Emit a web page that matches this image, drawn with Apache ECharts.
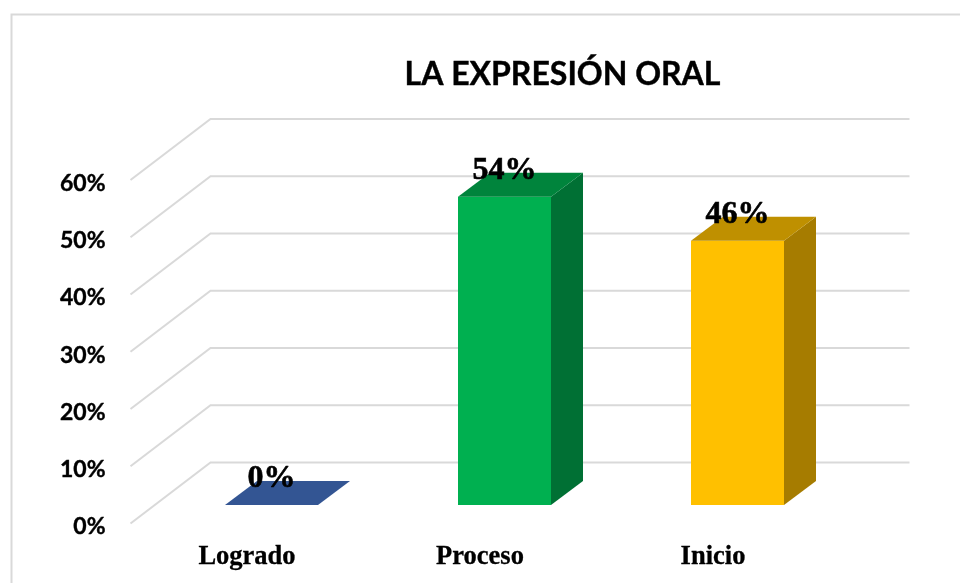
<!DOCTYPE html>
<html>
<head>
<meta charset="utf-8">
<style>html,body{margin:0;padding:0;background:#fff}#c{width:960px;height:583px}</style>
<script src="https://cdn.jsdelivr.net/npm/echarts@6/dist/echarts.min.js"></script>
</head>
<body>
<div id="c"></div>
<script>
var titleText = 'LA EXPRESIÓN ORAL';
var categories = ['Logrado', 'Proceso', 'Inicio'];
var values = [0, 53.85, 46.15];
var yTicks = [0, 10, 20, 30, 40, 50, 60];
var frontColors = ['#2f5597', '#00b050', '#ffc000'];
var topColors = ['#335593', '#00843c', '#bf9000'];
var sideColors = ['#254476', '#007034', '#a67c00'];

var GRID_DX = 80, GRID_DY = 61;
var BAR_W = 93, BAR_DX = 32, BAR_DY = 24, BAR_SHIFT_X = 24.5, BAR_SHIFT_Y = 18.5;
var chart = echarts.init(document.getElementById('c'), null, {renderer: 'canvas'});

function renderWall(params, api) {
  var cs = params.coordSys;
  var y = api.coord([0, api.value(1)])[1];
  return {
    type: 'polyline',
    shape: {points: [[cs.x, y], [cs.x + GRID_DX, y - GRID_DY], [cs.x + cs.width + GRID_DX, y - GRID_DY]]},
    style: {stroke: '#d9d9d9', lineWidth: 2, fill: 'none'},
    silent: true
  };
}
function renderBar(params, api) {
  var i = api.value(0), v = api.value(1);
  var b = api.coord([i, 0]), t = api.coord([i, v]);
  var l = b[0] + BAR_SHIFT_X - BAR_W / 2, r = l + BAR_W;
  var by = b[1] - BAR_SHIFT_Y, ty = t[1] - BAR_SHIFT_Y;
  var poly = function (pts, c) {
    return {type: 'polygon', shape: {points: pts}, style: {fill: c}};
  };
  var children = [];
  if (v > 0) {
    children.push(poly([[r, by], [r + BAR_DX, by - BAR_DY], [r + BAR_DX, ty - BAR_DY], [r, ty]], sideColors[i]));
    children.push(poly([[l, by], [r, by], [r, ty], [l, ty]], frontColors[i]));
  }
  children.push(poly([[l, ty], [r, ty], [r + BAR_DX, ty - BAR_DY], [l + BAR_DX, ty - BAR_DY]], topColors[i]));
  children.push({
    type: 'text', z2: 10,
    style: {
      text: Math.round(v) + '%', x: l + BAR_W / 2, y: ty - 26,
      align: 'center', verticalAlign: 'middle',
      font: 'bold 32px "Liberation Serif"', fill: '#000',
      stroke: '#000', lineWidth: 0.6
    }
  });
  return {type: 'group', children: children};
}

chart.setOption({
  animation: false,
  backgroundColor: '#fff',
  title: {
    text: titleText, left: 557.5, top: 54, textAlign: 'center',
    textStyle: {fontFamily: 'Lato', fontWeight: 'bold', fontSize: 32, color: '#000',
      textBorderColor: '#000', textBorderWidth: 0.4}
  },
  graphic: [{
    type: 'polyline', silent: true,
    shape: {points: [[11.5, 583], [11.5, 14.5], [960, 14.5]]},
    style: {stroke: '#d9d9d9', lineWidth: 2, fill: 'none'}
  }],
  grid: {left: 130.5, top: 180, width: 699, height: 343.5},
  xAxis: {
    type: 'category', data: categories,
    axisLine: {show: false}, axisTick: {show: false}, splitLine: {show: false},
    axisLabel: {margin: 20, color: '#000', fontFamily: 'Liberation Serif', fontWeight: 'bold', fontSize: 26.5,
      textBorderColor: '#000', textBorderWidth: 0.3}
  },
  yAxis: {
    type: 'value', min: 0, max: 60, interval: 10,
    axisLine: {show: false}, axisTick: {show: false}, splitLine: {show: false},
    axisLabel: {
      margin: 25, formatter: '{value}%', color: '#000', verticalAlign: 'top', lineHeight: 7,
      fontFamily: 'Lato', fontWeight: 'bold', fontSize: 23,
      textBorderColor: '#000', textBorderWidth: 0.4
    }
  },
  series: [
    {type: 'custom', name: 'grid', silent: true, z: 1, renderItem: renderWall,
     data: yTicks.map(function (t) { return [0, t]; })},
    {type: 'custom', name: 'La expresión oral', z: 2, renderItem: renderBar,
     data: values.map(function (v, i) { return [i, v]; })}
  ]
});
</script>
</body>
</html>
